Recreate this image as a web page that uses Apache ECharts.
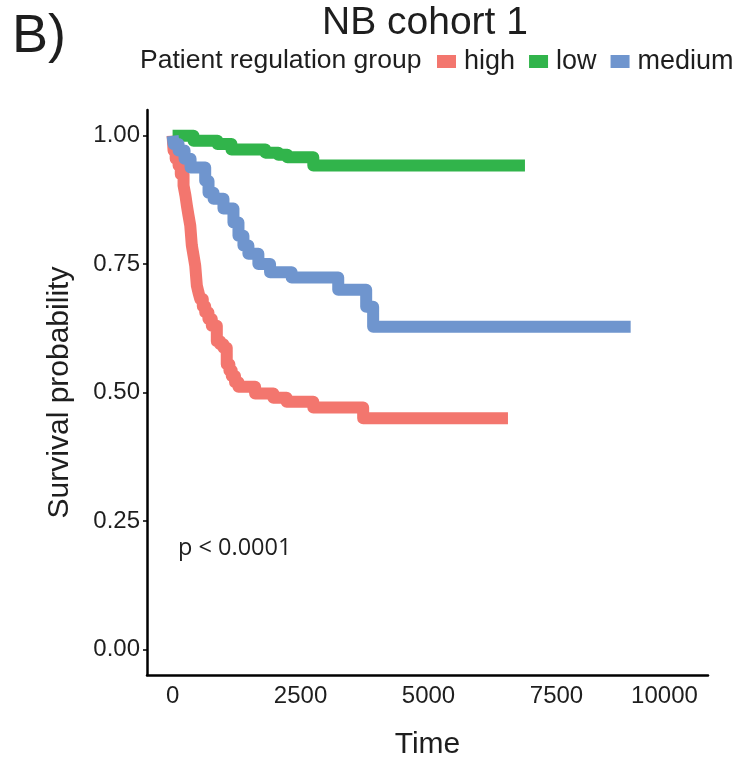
<!DOCTYPE html>
<html>
<head>
<meta charset="utf-8">
<script src="https://cdn.jsdelivr.net/npm/echarts@6/dist/echarts.min.js"></script>
<style>
html,body{margin:0;padding:0;background:#fff;}
#chart{width:740px;height:766px;}
</style>
</head>
<body>
<div id="chart"></div>
<script>
// ---- data (time, survival probability) ----
const groupNames = ['high', 'low', 'medium'];
const highTimes = [0, 19, 60, 117, 160, 214, 250, 279, 310, 345, 376, 410, 442, 474, 505, 540, 590, 637, 700, 766, 864, 930, 994, 1058, 1110, 1156, 1220, 1287, 1612, 1969, 2228, 2749, 3723, 6552];
const highSurv  = [1, 0.971, 0.955, 0.942, 0.925, 0.903, 0.884, 0.864, 0.845, 0.825, 0.786, 0.766, 0.747, 0.708, 0.695, 0.682, 0.668, 0.656, 0.643, 0.630, 0.600, 0.594, 0.587, 0.555, 0.543, 0.532, 0.520, 0.511, 0.498, 0.490, 0.482, 0.471, 0.450, 0.450];
const lowTimes  = [0, 409, 877, 1150, 1813, 2066, 2242, 2749, 6884];
const lowSurv   = [1, 0.990, 0.984, 0.973, 0.967, 0.963, 0.958, 0.942, 0.942];
const medTimes  = [0, 20, 117, 234, 351, 637, 702, 800, 994, 1189, 1287, 1384, 1481, 1676, 1904, 2326, 3236, 3782, 3918, 8949];
const medSurv   = [1, 0.984, 0.971, 0.955, 0.938, 0.912, 0.889, 0.877, 0.858, 0.831, 0.805, 0.786, 0.770, 0.750, 0.734, 0.724, 0.700, 0.667, 0.628, 0.628];
const xTicks = [0, 2500, 5000, 7500, 10000];
const yTicks = [0, 0.25, 0.5, 0.75, 1];
const colors = ['#F3766E', '#31B44B', '#6F95CE'];

function pairs(t, s) { return t.map((v, i) => [v, s[i]]); }
const seriesData = [pairs(highTimes, highSurv), pairs(lowTimes, lowSurv), pairs(medTimes, medSurv)];

const FONT = 'Liberation Sans, Arial, sans-serif';
const TXT = '#1e1e1e';

const chart = echarts.init(document.getElementById('chart'), null, {renderer: 'canvas'});
chart.setOption({
  animation: false,
  backgroundColor: '#fff',
  grid: {left: 147, right: 32, top: 110, bottom: 91, containLabel: false},
  legend: {
    data: groupNames,
    left: 437, top: 48, padding: 0,
    icon: 'rect', itemWidth: 19, itemHeight: 13, itemGap: 14,
    textStyle: {fontFamily: FONT, fontSize: 27, color: TXT, padding: [0, 0, 0, 3]}
  },
  xAxis: {
    type: 'value', min: -500, max: 10460,
    name: 'Time', nameLocation: 'middle', nameGap: 55,
    nameTextStyle: {fontFamily: FONT, fontSize: 30, color: TXT},
    axisLine: {show: true, onZero: false, lineStyle: {color: '#000', width: 2.5}},
    axisTick: {show: false},
    splitLine: {show: false},
    axisLabel: {
      customValues: xTicks, margin: 9,
      fontFamily: FONT, fontSize: 24, color: TXT,
      formatter: v => v === 10000 ? '{s|10000}' : String(v),
      rich: {s: {fontFamily: FONT, fontSize: 24, color: TXT, padding: [0, 40, 0, 0]}}
    }
  },
  yAxis: {
    type: 'value', min: -0.05, max: 1.05,
    name: 'Survival probability', nameLocation: 'middle', nameGap: 72,
    nameTextStyle: {fontFamily: FONT, fontSize: 30, color: TXT},
    axisLine: {show: true, onZero: false, lineStyle: {color: '#000', width: 2.5}},
    axisTick: {show: true, customValues: yTicks, length: 4, lineStyle: {color: '#000', width: 1.5}},
    splitLine: {show: false},
    axisLabel: {
      customValues: yTicks, margin: 7,
      fontFamily: FONT, fontSize: 24, color: TXT,
      formatter: v => v.toFixed(2)
    }
  },
  series: groupNames.map((n, i) => ({
    name: n, type: 'line', step: 'end', data: seriesData[i],
    showSymbol: false, symbol: 'none',
    itemStyle: {color: colors[i]},
    lineStyle: {color: colors[i], width: 12, join: 'round', cap: 'butt'}
  })),
  graphic: [
    {type: 'text', left: 12, top: 10, style: {text: 'B)', fontFamily: FONT, fontSize: 54, fill: TXT}},
    {type: 'text', x: 425, y: 23, style: {text: 'NB cohort 1', fontFamily: FONT, fontSize: 39, fill: TXT, align: 'center', verticalAlign: 'middle'}},
    {type: 'text', x: 140, y: 61, style: {text: 'Patient regulation group', fontFamily: FONT, fontSize: 26.5, fill: TXT, align: 'left', verticalAlign: 'middle'}},
    {type: 'text', x: 178, y: 548, style: {text: 'p < 0.0001', fontFamily: 'Open Sans, sans-serif', fontSize: 23.5, fill: TXT, align: 'left', verticalAlign: 'middle'}}
  ]
});
</script>
</body>
</html>
